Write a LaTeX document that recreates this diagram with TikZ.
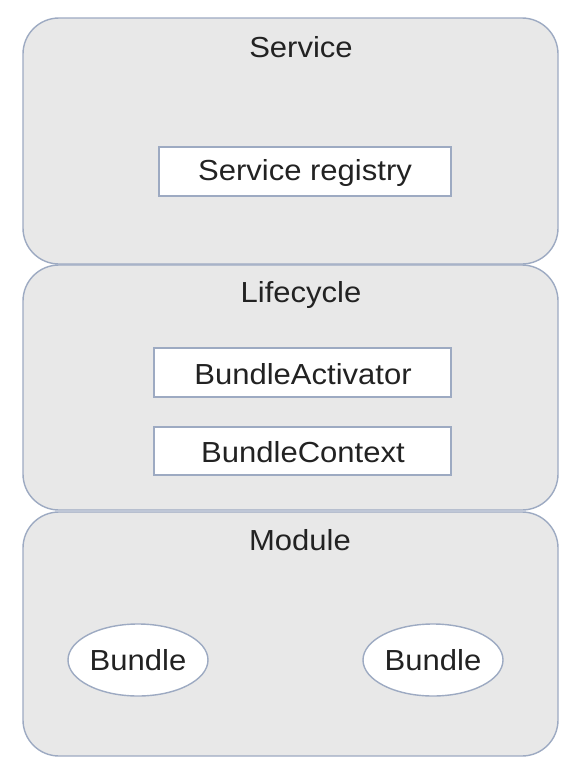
\documentclass[tikz,border=0pt]{standalone}
\usepackage{fontspec}
\setmainfont[FakeStretch=1.07]{Liberation Sans}
\usetikzlibrary{shapes.geometric}
\definecolor{layerfill}{HTML}{E8E8E8}
\definecolor{edge}{HTML}{9DAAC2}
\definecolor{txt}{HTML}{222222}
\begin{document}
\begin{tikzpicture}[x=1pt,y=-1pt,
  layer/.style={draw=edge,line width=1.4pt,fill=layerfill,rounded corners=36pt},
  inbox/.style={draw=edge,line width=1.4pt,fill=white,rectangle,inner sep=0pt},
  bund/.style={draw=edge,line width=1.4pt,fill=white,ellipse,inner sep=0pt,minimum width=140pt,minimum height=72pt},
  lbl/.style={text=txt,font=\fontsize{29}{33}\selectfont}]
\useasboundingbox (0,0) rectangle (578,772);
\fill[white] (0,0) rectangle (578,772);
\draw[layer] (23,18) rectangle (558,264);
\draw[layer] (23,265) rectangle (558,510);
\draw[layer] (23,512) rectangle (558,756);
\node[lbl] (svc) at (301,47) {Service};
\node[lbl] (lc) at (301,295) {Lifecycle};
\node[lbl] (mod) at (300,540) {Module};
\node[inbox,minimum width=292pt,minimum height=49pt] (reg) at (305,171.5) {};
\node[lbl] at (305,173) {Service registry};
\node[inbox,minimum width=297pt,minimum height=49pt] (act) at (302.5,372.5) {};
\node[lbl] at (303,374) {BundleActivator};
\node[inbox,minimum width=297pt,minimum height=48pt] (ctx) at (302.5,451) {};
\node[lbl] at (303,452.5) {BundleContext};
\node[bund,lbl] (b1) at (138,660) {Bundle};
\node[bund,lbl] (b2) at (433,660) {Bundle};
\end{tikzpicture}
\end{document}
